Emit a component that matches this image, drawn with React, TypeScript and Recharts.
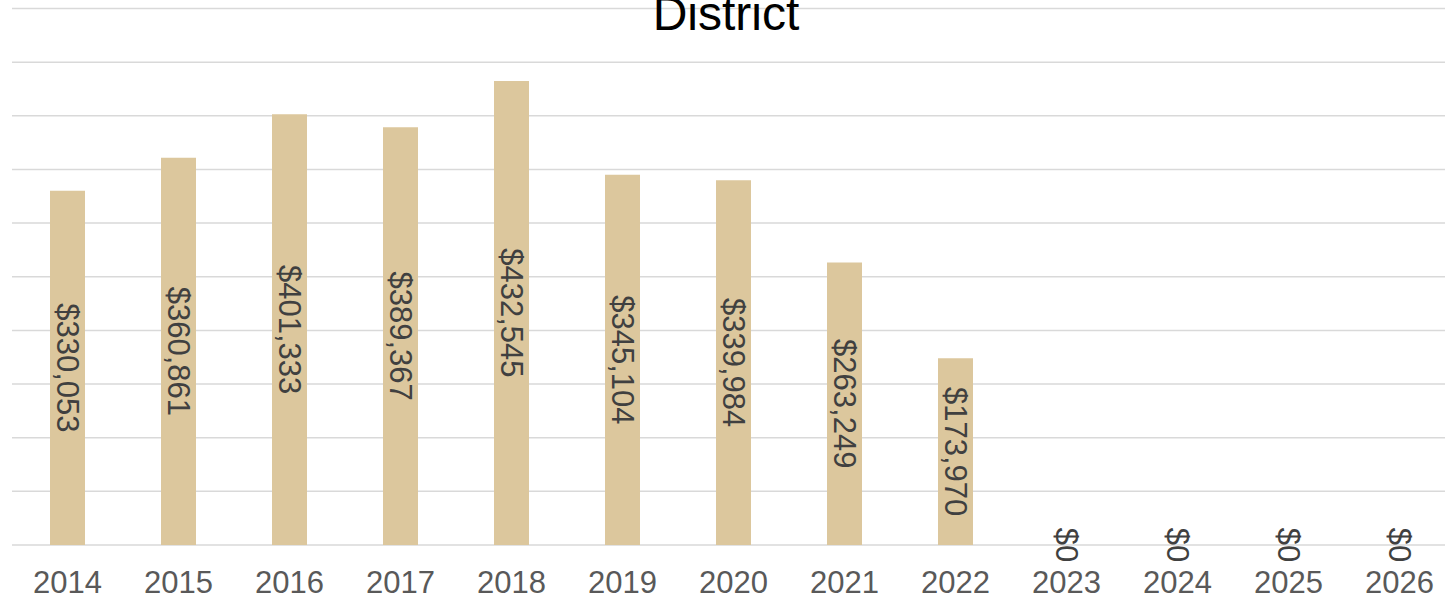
import React from "react";
import { ComposedChart, Bar, Line, XAxis, YAxis, CartesianGrid, LabelList } from "recharts";

const years = ["2014", "2015", "2016", "2017", "2018", "2019", "2020", "2021", "2022", "2023", "2024", "2025", "2026"];
const amounts = [330053, 360861, 401333, 389367, 432545, 345104, 339984, 263249, 173970, 0, 0, 0, 0];
const yTicks = [0, 50000, 100000, 150000, 200000, 250000, 300000, 350000, 400000, 450000, 500000];

const data = years.map((y, i) => ({ year: y, amount: amounts[i], mid: amounts[i] / 2 }));

const FONT = "'Liberation Sans', Arial, sans-serif";

const RotLabel = (props: any) => {
  const { x, y, index } = props;
  const cx = Number(x);
  const cy = Number(y);
  const v = amounts[index];
  return (
    <text
      key={`lbl-${index}`}
      x={cx}
      y={cy}
      transform={`rotate(90, ${cx}, ${cy})`}
      textAnchor="middle"
      dominantBaseline="central"
      fill="#404040"
      fontSize={31}
      fontFamily={FONT}
    >
      {"$" + Number(v).toLocaleString("en-US")}
    </text>
  );
};

export default function App() {
  return (
    <div style={{ position: "absolute", left: 0, top: 0, width: 1445, height: 598, background: "#fff", overflow: "hidden" }}>
      <ComposedChart
        width={1455}
        height={598}
        data={data}
        margin={{ top: 8.5, right: 0, left: 12, bottom: 0 }}
        barSize={35}
      >
        <CartesianGrid vertical={false} stroke="#d9d9d9" strokeWidth={1.5} />
        <YAxis hide domain={[0, 500000]} ticks={yTicks} width={0} />
        <XAxis
          dataKey="year"
          axisLine={false}
          tickLine={false}
          height={53}
          tickMargin={20}
          interval={0}
          tick={{ fill: "#595959", fontSize: 31, fontFamily: FONT }}
        />
        <Bar dataKey="amount" fill="#dcc79d" isAnimationActive={false} />
        <Line
          dataKey="mid"
          stroke="none"
          dot={false}
          activeDot={false}
          isAnimationActive={false}
        >
          <LabelList dataKey="mid" content={RotLabel} />
        </Line>
      </ComposedChart>
      <div
        style={{
          position: "absolute",
          left: 0,
          width: 1452,
          top: -14,
          textAlign: "center",
          fontFamily: FONT,
          fontSize: 48,
          color: "#000",
          lineHeight: "55px",
        }}
      >
        District
      </div>
    </div>
  );
}
